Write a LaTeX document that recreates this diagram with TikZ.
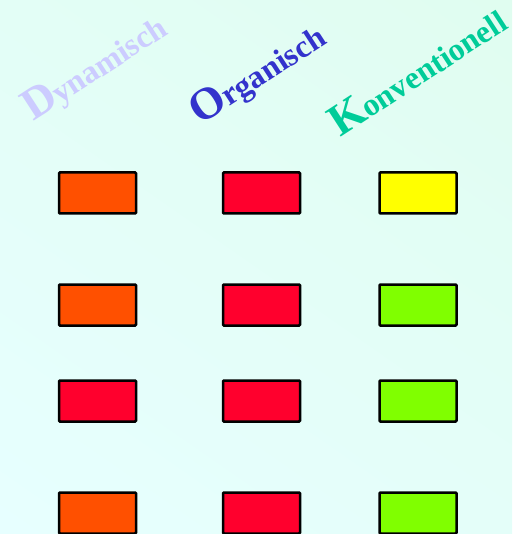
\documentclass[tikz,border=0pt]{standalone}
\usepackage{fontspec}
\setmainfont{Liberation Serif}
\usepackage{tikz}
\usetikzlibrary{shadings}

\definecolor{bgmint}{HTML}{E0FDF0}
\definecolor{bgcyan}{HTML}{E7FFFF}
\definecolor{lavender}{HTML}{CCCCFF}
\definecolor{royal}{HTML}{3333CC}
\definecolor{seagreen}{HTML}{00CC99}
\definecolor{lamporange}{HTML}{FF5000}
\definecolor{lampred}{HTML}{FF002D}
\definecolor{lampyellow}{HTML}{FFFF00}
\definecolor{lampgreen}{HTML}{80FF00}

\newcommand{\bigfirst}[1]{{\fontsize{45}{45}\selectfont #1}}

\begin{document}
\begin{tikzpicture}[
  x=1pt, y=-1pt,
  head/.style={rotate=33, anchor=base west, inner sep=0pt,
               font=\fontsize{32}{32}\selectfont\bfseries},
  lamp/.style={rectangle, draw=black, line width=2.5pt, rounded corners=1pt,
               minimum width=77pt, minimum height=41pt, inner sep=0pt}
]
\shade[upper left=bgmint!60!bgcyan, upper right=bgmint,
       lower left=bgcyan, lower right=bgmint!40!bgcyan]
  (0,0) rectangle (512,534);
\useasboundingbox (0,0) rectangle (512,534);

% column heads
\node[head, text=lavender] (dyn) at (33,122) {\bigfirst{D}ynamisch};
\node[head, text=royal] (org) at (200,126) {\bigfirst{O}rganisch};
\node[head, text=seagreen] (kon) at (340,138) {\bigfirst{K}onventionell};

% first row
\node[lamp, fill=lamporange] (d1) at (97.5,193) {};
\node[lamp, fill=lampred] (o1) at (261.5,193) {};
\node[lamp, fill=lampyellow] (k1) at (418,193) {};

% second row
\node[lamp, fill=lamporange] (d2) at (97.5,305) {};
\node[lamp, fill=lampred] (o2) at (261.5,305) {};
\node[lamp, fill=lampgreen] (k2) at (418,305) {};

% third row
\node[lamp, fill=lampred] (d3) at (97.5,401) {};
\node[lamp, fill=lampred] (o3) at (261.5,401) {};
\node[lamp, fill=lampgreen] (k3) at (418,401) {};

% fourth row
\node[lamp, fill=lamporange] (d4) at (97.5,513) {};
\node[lamp, fill=lampred] (o4) at (261.5,513) {};
\node[lamp, fill=lampgreen] (k4) at (418,513) {};
\end{tikzpicture}
\end{document}
